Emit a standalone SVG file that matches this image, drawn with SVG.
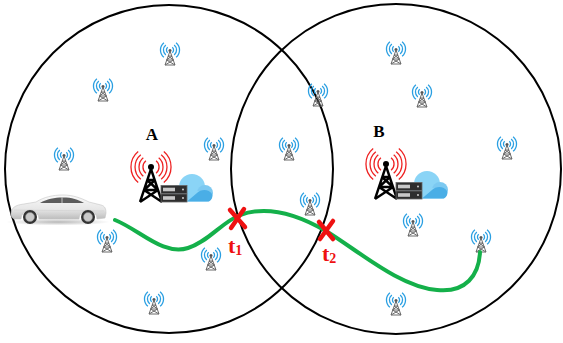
<svg xmlns="http://www.w3.org/2000/svg" xmlns:xlink="http://www.w3.org/1999/xlink" width="563" height="343" viewBox="0 0 563 343">
  <style>
    .cell { fill: none; stroke: #000; stroke-width: 2; }
    .path { fill: none; stroke: #14b04a; stroke-width: 4; stroke-linecap: round; }
    .cross { stroke: #ee1111; stroke-width: 4.5; stroke-linecap: round; }
    .lbl { font-family: "Liberation Serif", "Times New Roman", serif; font-weight: bold; fill: #000; font-size: 17px; }
    .tl { font-family: "Liberation Serif", "Times New Roman", serif; font-weight: bold; fill: #ee1111; }
    .wave-b { fill: none; stroke: #2a9fe2; stroke-width: 1.3; }
    .mast-s { fill: none; stroke: #6a6a6a; stroke-width: 1; }
    .wave-r { fill: none; stroke: #ee2222; stroke-width: 1.3; }
    .mast-b { fill: none; stroke: #000; stroke-width: 2.4; }
  </style>
  <defs>
    <!-- small cell antenna, origin at the antenna tip -->
    <g id="ant">
      <path class="wave-b" d="M-2.3,-2.7 A3.5,3.5 0 0 0 -2.3,2.7 M2.3,-2.7 A3.5,3.5 0 0 1 2.3,2.7 M-4.2,-5 A6.5,6.5 0 0 0 -4.2,5 M4.2,-5 A6.5,6.5 0 0 1 4.2,5 M-6.1,-7.3 A9.5,9.5 0 0 0 -6.1,7.3 M6.1,-7.3 A9.5,9.5 0 0 1 6.1,7.3"/>
      <circle cx="0" cy="0.5" r="1.5" fill="#555"/>
      <path class="mast-s" d="M0,1 L-5,15 M0,1 L5,15 M-2,6 L2,6 M-3.5,10 L3.5,10 M-5,15 L5,15 M-2,6 L3.5,10 M2,6 L-3.5,10 M-3.5,10 L5,15 M3.5,10 L-5,15"/>
    </g>
    <linearGradient id="carBody" x1="0" y1="0" x2="0" y2="1">
      <stop offset="0" stop-color="#fafafa"/>
      <stop offset="0.6" stop-color="#e6e6e6"/>
      <stop offset="1" stop-color="#bdbdbd"/>
    </linearGradient>
    <radialGradient id="carShadow" cx="0.5" cy="0.5" r="0.5">
      <stop offset="0" stop-color="#888" stop-opacity="0.6"/>
      <stop offset="1" stop-color="#888" stop-opacity="0"/>
    </radialGradient>
    <!-- base station: mast, server rack and cloud, origin at mast tip -->
    <g id="station">
      <path class="wave-r" d="M-5.1,-6.2 A8,8 0 0 0 -5.1,6.2 M5.1,-6.2 A8,8 0 0 1 5.1,6.2 M-7.7,-9.2 A12,12 0 0 0 -7.7,9.2 M7.7,-9.2 A12,12 0 0 1 7.7,9.2 M-10.2,-12.3 A16,16 0 0 0 -10.2,12.3 M10.2,-12.3 A16,16 0 0 1 10.2,12.3 M-12.8,-15.4 A20,20 0 0 0 -12.8,15.4 M12.8,-15.4 A20,20 0 0 1 12.8,15.4"/>
      <circle cx="0" cy="0" r="3" fill="#000"/>
      <path class="mast-b" d="M0,2 L-11,35 M0,2 L11,35 M-4,13 L4,13 M-7,23 L7,23 M-4,13 L7,23 M4,13 L-7,23 M-7,23 L11,35 M7,23 L-11,35"/>
      <g>
        <circle cx="41" cy="20" r="13" fill="#8ad4f6"/>
        <circle cx="27" cy="26" r="8" fill="#8ad4f6"/>
        <circle cx="54" cy="26" r="8" fill="#7cc9f1"/>
        <rect x="24" y="24" width="36" height="10.5" rx="4" fill="#8ad4f6"/>
        <path d="M36,34.5 L58,34.5 C61,33 62,30 61,27 C58,22 50,22 46,26 Z" fill="#4aaee6"/>
      </g>
      <rect x="10" y="18.5" width="26" height="8" fill="#2e2e2e" stroke="#666" stroke-width="0.8"/>
      <rect x="10" y="27" width="26" height="8" fill="#2e2e2e" stroke="#666" stroke-width="0.8"/>
      <rect x="12" y="20.7" width="12" height="3.6" fill="#c8c8c8"/>
      <rect x="12" y="29.2" width="12" height="3.6" fill="#c8c8c8"/>
      <circle cx="32" cy="22.5" r="0.9" fill="#ddd"/>
      <circle cx="32" cy="31" r="0.9" fill="#ddd"/>
    </g>
  </defs>

  <rect width="563" height="343" fill="#fff"/>

  <!-- coverage areas -->
  <g id="cell-A">
    <circle class="cell" cx="169" cy="169" r="164"/>
  </g>
  <g id="cell-B">
    <circle class="cell" cx="396" cy="169" r="165"/>
  </g>

  <!-- small cells -->
  <g id="small-cells">
    <use href="#ant" x="170" y="50"/>
    <use href="#ant" x="103" y="86"/>
    <use href="#ant" x="64" y="155"/>
    <use href="#ant" x="214" y="145"/>
    <use href="#ant" x="107" y="237"/>
    <use href="#ant" x="211" y="255"/>
    <use href="#ant" x="154" y="299"/>
    <use href="#ant" x="318" y="91"/>
    <use href="#ant" x="289" y="145"/>
    <use href="#ant" x="310" y="200"/>
    <use href="#ant" x="396" y="49"/>
    <use href="#ant" x="422" y="92"/>
    <use href="#ant" x="507" y="144"/>
    <use href="#ant" x="413" y="221"/>
    <use href="#ant" x="481" y="237"/>
    <use href="#ant" x="396" y="300"/>
  </g>

  <!-- base stations -->
  <g id="station-A">
    <use href="#station" x="151" y="167"/>
    <text class="lbl" x="152" y="140" text-anchor="middle">A</text>
  </g>
  <g id="station-B">
    <use href="#station" x="386" y="164"/>
    <text class="lbl" x="379" y="137" text-anchor="middle">B</text>
  </g>

  <!-- vehicle -->
  <g id="car">
    <ellipse cx="58" cy="222" rx="52" ry="3.5" fill="url(#carShadow)"/>
    <path d="M11,214 C11,208 15,205 24,204 L36,202 C44,197 53,195 63,195 C73,195 81,198 89,202 L101,205 C105,206 106,209 106,213 L105,218 L97,219 A9,9 0 0 0 79,219 L39,219 A9,9 0 0 0 21,219 L14,219 C12,218 11,216 11,214 Z" fill="url(#carBody)" stroke="#c4c4c4" stroke-width="0.6"/>
    <path d="M40,203 C47,199 54,197.5 63,197.5 C72,197.5 78,199.5 84,203 Z" fill="#5c5c5c"/>
    <path d="M62,197.5 L62,203" stroke="#ddd" stroke-width="0.8"/>
    <path d="M14,210 L104,211" stroke="#d0d0d0" stroke-width="0.6"/>
    <circle cx="30" cy="217" r="7" fill="#333"/>
    <circle cx="30" cy="217" r="4.5" fill="#c9c9c9" stroke="#888" stroke-width="0.6"/>
    <circle cx="88" cy="217" r="7" fill="#333"/>
    <circle cx="88" cy="217" r="4.5" fill="#c9c9c9" stroke="#888" stroke-width="0.6"/>
  </g>

  <!-- trajectory and handover points -->
  <g id="connectors">
    <path class="path" d="M115,220 C140,230 163,256 188,248 C208,242 222,222 240,215 C262,207 290,210 326,231 C360,252 400,287 437,290 C466,293 479,275 480,252"/>
    <path class="cross" d="M230,210 L245,227 M244,209 L231,228"/>
    <path class="cross" d="M319,222 L333,239 M333,221 L320,239"/>
  </g>
  <g id="t1">
    <text class="tl" x="228" y="253" font-size="22">t<tspan font-size="14" dy="2">1</tspan></text>
  </g>
  <g id="t2">
    <text class="tl" x="322" y="261" font-size="22">t<tspan font-size="14" dy="2">2</tspan></text>
  </g>
</svg>
